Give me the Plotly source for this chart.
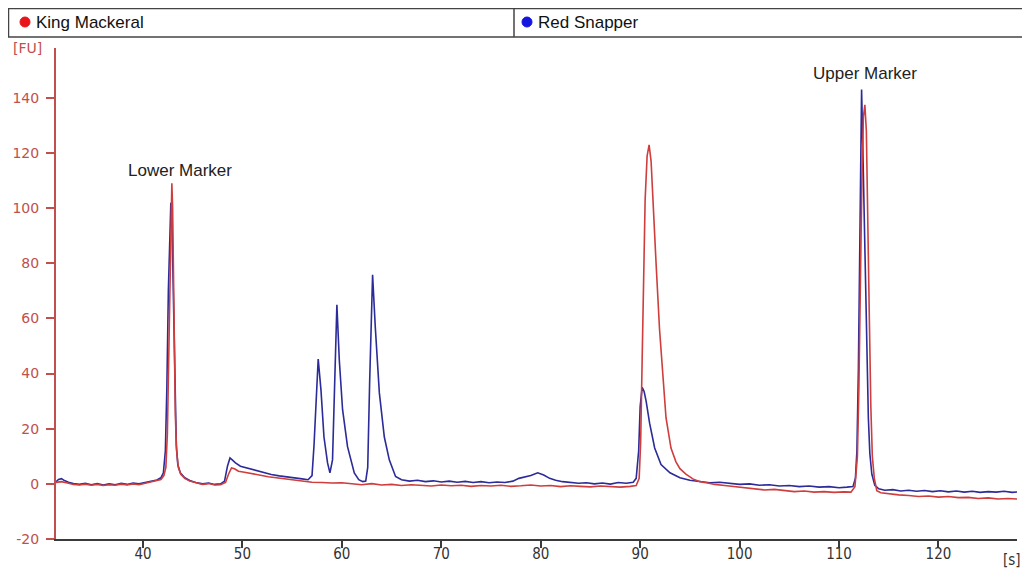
import plotly.graph_objects as go

# ---------------- data ----------------
king_t = [31.2, 31.8, 32.4, 33.0, 33.6, 34.2, 34.8, 35.4, 36.0, 36.6, 37.2, 37.8, 38.4, 39.0, 39.6,
          40.2, 40.8, 41.4, 41.8, 42.1, 42.3, 42.45, 42.6, 42.72, 42.82, 42.9, 42.98, 43.06, 43.15,
          43.25, 43.38, 43.55, 43.8, 44.2, 44.7, 45.3, 46.0, 46.6, 47.2, 47.8, 48.3, 48.6, 48.9,
          49.2, 49.6, 50.2, 51.0, 51.8, 52.6, 53.4, 54.2, 55.0, 56.0, 57.0, 58.0, 59.0, 60.0, 61.0,
          62.0, 63.0, 64.0, 65.0, 66.0, 67.0, 68.0, 69.0, 70.0, 71.0, 72.0, 73.0, 74.0, 75.0, 76.0,
          77.0, 78.0, 79.0, 80.0, 81.0, 82.0, 83.0, 84.0, 85.0, 86.0, 87.0, 88.0, 89.0, 89.6, 89.9,
          90.05, 90.2, 90.35, 90.5, 90.7, 90.9, 91.1, 91.3, 91.6, 91.95, 92.3, 92.6, 93.1, 93.6,
          94.0, 94.6, 95.3, 96.0, 96.8, 97.5, 98.5, 99.5, 100.5, 101.5, 102.5, 103.5, 104.5, 105.5,
          106.5, 107.5, 108.5, 109.5, 110.5, 111.2, 111.6, 111.85, 112.0, 112.15, 112.3, 112.45,
          112.6, 112.75, 112.9, 113.05, 113.2, 113.35, 113.55, 113.8, 114.2, 115.0, 116.0, 117.0,
          118.0, 119.0, 120.0, 121.0, 122.0, 123.0, 124.0, 125.0, 126.0, 127.0, 128.0]
king_fu = [0.5, 0.8, 0.3, -0.2, -0.4, -0.1, -0.5, -0.2, -0.6, -0.3, -0.5, -0.1, -0.4, 0.0, -0.3,
           0.2, 0.6, 1.0, 1.6, 3.0, 6.0, 18, 50, 85, 104, 109, 100, 78, 50,
           25, 12, 6, 3.5, 2.0, 1.0, 0.4, -0.2, 0.1, -0.4, -0.3, 0.5, 3.5, 5.8,
           5.5, 4.6, 4.2, 3.6, 3.2, 2.6, 2.2, 1.8, 1.4, 0.9, 0.6, 0.5, 0.3, 0.4, 0.0,
           -0.3, 0.1, -0.4, -0.2, -0.6, -0.3, -0.5, -0.8, -0.4, -0.7, -0.5, -0.9, -0.6, -0.8, -0.5,
           -0.9, -0.7, -0.4, -0.8, -0.6, -1.0, -0.7, -0.9, -1.1, -0.8, -1.0, -1.2, -0.9, -0.6, 2,
           15, 45, 78, 103, 119, 123, 117, 104, 80, 56, 37, 24, 13, 8,
           5.5, 3.5, 1.8, 0.8, 0.3, -0.2, -0.6, -1.0, -1.6, -1.9, -2.2, -2.0, -2.5, -2.8,
           -2.6, -3.0, -2.8, -3.1, -2.9, -3.0, -1.0, 10, 35, 75, 110, 133,
           137.5, 128, 100, 60, 28, 10, 2, -2.5, -3.2, -3.6, -4.0, -4.2,
           -4.6, -4.4, -4.8, -4.6, -5.0, -4.9, -5.3, -5.1, -5.5, -5.3, -5.5]

snapper_t = [31.2, 31.5, 31.8, 32.1, 32.5, 33.0, 33.6, 34.2, 34.8, 35.4, 36.0, 36.6, 37.2, 37.8, 38.4,
             39.0, 39.6, 40.2, 40.8, 41.4, 41.8, 42.05, 42.25, 42.4, 42.55, 42.7, 42.8, 42.9, 43.0,
             43.1, 43.22, 43.35, 43.5, 43.75, 44.2, 44.7, 45.3, 46.0, 46.6, 47.2, 47.8, 48.2, 48.5,
             48.75, 49.0, 49.3, 49.8, 50.4, 51.2, 52.0, 52.9, 53.7, 54.5, 55.3, 56.0, 56.6, 57.0,
             57.2, 57.4, 57.62, 57.9, 58.2, 58.56, 58.8, 59.06, 59.23, 59.5, 59.74, 60.07, 60.57,
             61.25, 61.7, 62.1, 62.4, 62.6, 62.8, 63.09, 63.36, 63.77, 64.27, 64.77, 65.4, 66.0,
             66.8, 67.6, 68.4, 69.2, 70.0, 70.8, 71.6, 72.4, 73.2, 74.0, 74.8, 75.6, 76.4, 77.2,
             77.8, 78.4, 79.0, 79.7, 80.3, 80.9, 81.5, 82.2, 83.0, 83.8, 84.6, 85.4, 86.2, 87.0,
             87.8, 88.6, 89.3, 89.6, 89.85, 90.0, 90.2, 90.4, 90.6, 90.95, 91.46, 92.1, 93.0, 94.0,
             95.0, 96.0, 97.0, 98.0, 99.0, 100.0, 101.0, 102.0, 103.0, 104.0, 105.0, 106.0, 107.0,
             108.0, 109.0, 110.0, 110.8, 111.4, 111.65, 111.8, 111.95, 112.1, 112.2, 112.27, 112.35,
             112.5, 112.65, 112.8, 112.95, 113.1, 113.3, 113.6, 114.0, 114.6, 115.4, 116.2, 117.0,
             117.8, 118.6, 119.4, 120.2, 121.0, 121.8, 122.6, 123.4, 124.2, 125.0, 125.8, 126.6,
             127.4, 128.0]
snapper_fu = [0.6, 1.6, 1.9, 1.2, 0.6, 0.1, -0.2, 0.2, -0.3, 0.1, -0.4, 0.0, -0.3, 0.2, -0.2,
              0.3, 0.0, 0.5, 0.9, 1.4, 2.2, 4.0, 12, 35, 70, 97, 102, 97, 80,
              55, 30, 14, 7, 4, 2.2, 1.2, 0.5, 0.0, 0.3, -0.2, 0.0, 1.0, 6.5,
              9.4, 8.6, 7.6, 6.4, 5.8, 5.0, 4.2, 3.4, 2.9, 2.6, 2.1, 1.8, 1.5, 3.0,
              14, 30, 45.3, 34, 17, 7.6, 4.0, 8.7, 30, 65, 45, 27, 13.5,
              4.0, 1.5, 0.8, 1.0, 6, 37.7, 75.8, 57, 33, 17, 8.7, 2.7, 1.5,
              1.0, 1.3, 0.8, 1.1, 0.7, 1.0, 0.6, 0.9, 0.5, 0.8, 0.4, 0.7, 0.5, 1.0,
              2.0, 2.6, 3.0, 4.0, 3.2, 2.0, 1.3, 0.8, 0.5, 0.2, 0.4, 0.0, 0.3, -0.1,
              0.5, 0.2, 0.6, 2.0, 12, 28, 35, 33.5, 30, 22, 13, 7, 4.0, 2.2,
              1.3, 0.8, 0.4, 0.6, 0.1, -0.2, 0.0, -0.5, -0.3, -0.8, -0.6, -1.0, -0.8,
              -1.2, -1.0, -1.4, -1.2, -1.0, 2, 12, 42, 88, 126, 143, 130,
              102, 72, 45, 24, 11, 3.5, -0.5, -1.8, -2.3, -2.1, -2.6, -2.3,
              -2.7, -2.4, -2.8, -2.5, -2.9, -2.6, -3.0, -2.7, -3.1, -2.8, -3.0, -2.7,
              -3.1, -2.9]

series_names = ["King Mackeral", "Red Snapper"]
y_ticks = [-20, 0, 20, 40, 60, 80, 100, 120, 140]
y_tick_text = ["-20", "0", "20", "40", "60", "80", "100", "120", "140"]
x_ticks = [40, 50, 60, 70, 80, 90, 100, 110, 120]
marker_labels = ["Lower Marker", "Upper Marker"]
marker_pos_t = [43.7, 112.6]
marker_pos_fu = [113.5, 148.8]

# ---------------- styling ----------------
OFF = 8                      # page body margin
W, H = 1030 - OFF, 573 - OFF
L, R, T, B = 56 - OFF, 1017 - OFF, 48 - OFF, 539 - OFF
RED = "#cf3d3d"
BLUE = "#2b2b99"
AXRED = "#c0504d"


def px(x):
    return (x - OFF - L) / (R - L)


def py(y):
    return (B - (y - OFF)) / (B - T)


fig = go.Figure()
fig.add_trace(go.Scatter(x=snapper_t, y=snapper_fu, mode="lines", name=series_names[1],
                         line=dict(color=BLUE, width=1.6)))
fig.add_trace(go.Scatter(x=king_t, y=king_fu, mode="lines", name=series_names[0],
                         line=dict(color=RED, width=1.6)))

shapes = []
shapes.append(dict(type="rect", xref="paper", yref="paper", x0=px(8.5), x1=px(1035), y0=py(37), y1=py(8.5),
                   line=dict(color="#444444", width=1.5), fillcolor="white", layer="above"))
shapes.append(dict(type="line", xref="paper", yref="paper", x0=px(514), x1=px(514), y0=py(37), y1=py(8.5),
                   line=dict(color="#444444", width=1.5)))
for cx, col in [(25, "#e8161b"), (527, "#1515e0")]:
    shapes.append(dict(type="circle", xref="paper", yref="paper", x0=px(cx - 5), x1=px(cx + 5),
                       y0=py(27), y1=py(17), line=dict(color=col, width=1), fillcolor=col))

annotations = []
for name, xx in [(series_names[0], 34), (series_names[1], 536)]:
    annotations.append(dict(text=name, xref="paper", yref="paper", x=px(xx), y=py(22), xanchor="left",
                            yanchor="middle", showarrow=False,
                            font=dict(family="Liberation Sans, Arial", size=17, color="#111111")))
for lab, tt, vv in zip(marker_labels, marker_pos_t, marker_pos_fu):
    annotations.append(dict(text=lab, x=tt, y=vv, xref="x", yref="y", showarrow=False,
                            xanchor="center", yanchor="middle",
                            font=dict(family="Liberation Sans, Arial", size=17, color="#222222")))
annotations.append(dict(text="[FU]", xref="paper", yref="paper", x=px(27), y=py(48), showarrow=False,
                        xanchor="center", yanchor="middle",
                        font=dict(family="DejaVu Sans", size=14, color=AXRED)))
annotations.append(dict(text="[s]", xref="paper", yref="paper", x=px(1023), y=py(560), showarrow=False,
                        xanchor="right", yanchor="middle",
                        font=dict(family="DejaVu Sans Condensed, DejaVu Sans", size=15, color="#333333")))

fig.update_layout(
    width=W, height=H,
    margin=dict(l=L, r=W - R, t=T, b=H - B, pad=0, autoexpand=False),
    paper_bgcolor="white", plot_bgcolor="white",
    showlegend=False,
    shapes=shapes, annotations=annotations,
    xaxis=dict(range=[31.25, 127.9], tickvals=x_ticks, showgrid=False, zeroline=False,
               showline=True, linecolor="#3a3a3a", linewidth=2, ticks="outside", ticklen=7,
               tickwidth=2, tickcolor="#3a3a3a", automargin=False, ticklabelstandoff=-7,
               tickfont=dict(family="DejaVu Sans Condensed, DejaVu Sans", size=15, color="#333333")),
    yaxis=dict(range=[-20, 158.1], tickvals=y_ticks, ticktext=y_tick_text, showgrid=False,
               zeroline=False, showline=True, linecolor=AXRED, linewidth=2, ticks="outside",
               ticklen=8, tickwidth=2, tickcolor=AXRED, ticklabelstandoff=4, automargin=False,
               tickfont=dict(family="DejaVu Sans", size=14, color=AXRED)),
)

fig.write_html("out.html")
